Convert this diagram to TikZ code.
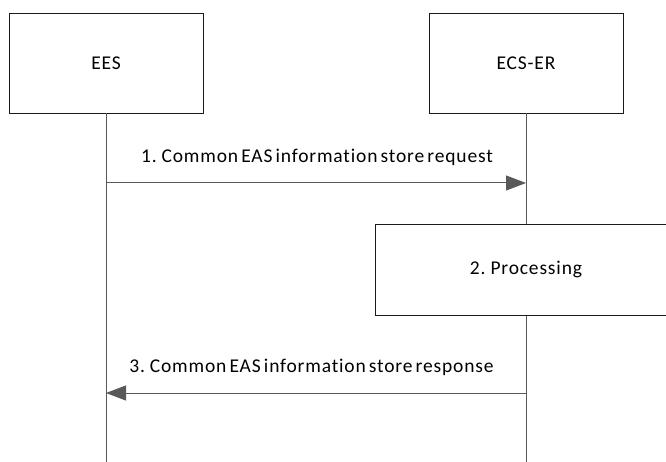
\documentclass[tikz,border=0pt]{standalone}
\usepackage{fontspec}
\setmainfont{Carlito}[Ligatures=NoCommon, LetterSpace=4.3, WordSpace=0.6]
\usetikzlibrary{arrows.meta}
\definecolor{linegray}{HTML}{595959}
\definecolor{boxline}{HTML}{1A1A1A}
\tikzset{
  entity/.style={draw=boxline, line width=0.9pt, fill=white, minimum width=194pt, minimum height=100pt, inner sep=0pt, font=\fontsize{19.5}{23}\selectfont},
  procbox/.style={draw=boxline, line width=0.9pt, fill=white, minimum width=302pt, minimum height=91pt, inner sep=0pt, font=\fontsize{19.5}{23}\selectfont},
  lifeline/.style={draw=linegray, line width=1pt},
  msg/.style={draw=linegray, line width=1pt, -{Triangle[length=20pt,width=15pt]}, color=linegray},
  msglabel/.style={inner sep=0pt, font=\fontsize{19.5}{23}\selectfont}
}
\begin{document}
\begin{tikzpicture}[x=1pt,y=-1pt]
\useasboundingbox (0,0) rectangle (666,462);
\node[entity] (ees) at (106,63) {EES};
\node[entity] (ecs) at (526,63) {ECS-ER};
\coordinate (eesend) at (106,462);
\coordinate (ecsend) at (526,462);
\draw[lifeline] (ees.south) -- (eesend);
\draw[lifeline] (ecs.south) -- (ecsend);
\node[procbox] (proc) at (526,269.5) {2. Processing};
\coordinate (m1s) at (106,183);
\coordinate (m1e) at (526,183);
\coordinate (m3s) at (526,393);
\coordinate (m3e) at (106,393);
\draw[msg] (m1s) -- (m1e);
\draw[msg] (m3s) -- (m3e);
\node[msglabel] (l1) at (317,157) {1. Common EAS information store request};
\node[msglabel] (l3) at (311.5,367) {3. Common EAS information store response};
\end{tikzpicture}
\end{document}
